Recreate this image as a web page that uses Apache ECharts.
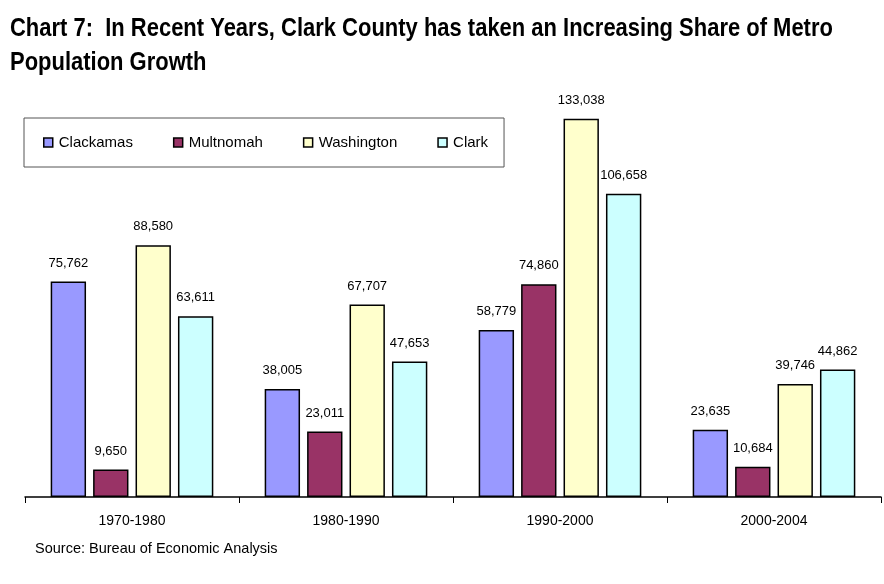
<!DOCTYPE html>
<html>
<head>
<meta charset="utf-8">
<title>Chart 7</title>
<script src="https://cdn.jsdelivr.net/npm/echarts@6/dist/echarts.min.js"></script>
<style>
  html, body { margin: 0; padding: 0; background: #fff; }
  #chart { width: 884px; height: 584px; }
</style>
</head>
<body>
<div id="chart"></div>
<script>
// Population growth by county, per period
const periods = ['1970-1980', '1980-1990', '1990-2000', '2000-2004'];
const clackamas = [75762, 38005, 58779, 23635];
const multnomah = [9650, 23011, 74860, 10684];
const washington = [88580, 67707, 133038, 39746];
const clark = [63611, 47653, 106658, 44862];

const countyNames = ['Clackamas', 'Multnomah', 'Washington', 'Clark'];
const countyColors = ['#9999FF', '#993366', '#FFFFCC', '#CCFFFF'];
const countyValues = [clackamas, multnomah, washington, clark];

const titleLines = [
  'Chart 7:  In Recent Years, Clark County has taken an Increasing Share of Metro',
  'Population Growth'
];
const sourceNote = 'Source: Bureau of Economic Analysis';

const sans = '"Liberation Sans", Arial, sans-serif';

const chart = echarts.init(document.getElementById('chart'), null, { renderer: 'canvas' });

const series = countyNames.map((name, i) => ({
  name: name,
  type: 'bar',
  data: countyValues[i],
  barGap: '20%',
  barCategoryGap: '24%',
  itemStyle: { color: countyColors[i], borderColor: '#000', borderWidth: 1.5 },
  label: {
    show: true,
    position: 'top',
    distance: 12,
    color: '#000',
    fontFamily: sans,
    fontSize: 13,
    formatter: p => p.value.toLocaleString('en-US')
  },
  emphasis: { disabled: true }
}));

// Condensed title lines: bold sans squeezed horizontally
const titleText = (text, y) => ({
  type: 'text',
  x: 10,
  y: y,
  scaleX: 0.845,
  silent: true,
  style: {
    text: text,
    fontFamily: sans,
    fontSize: 26,
    fontWeight: 'bold',
    fill: '#000',
    verticalAlign: 'middle'
  }
});

chart.setOption({
  animation: false,
  backgroundColor: '#fff',
  graphic: [
    titleText(titleLines[0], 29),
    titleText(titleLines[1], 63),
    {
      type: 'text',
      x: 35,
      y: 549,
      silent: true,
      style: {
        text: sourceNote,
        fontFamily: sans,
        fontSize: 14.5,
        fill: '#000',
        verticalAlign: 'middle'
      }
    }
  ],
  legend: {
    left: 24,
    top: 118,
    orient: 'horizontal',
    padding: [17, 16, 17, 19],
    itemGap: 40,
    itemWidth: 9,
    itemHeight: 9,
    borderColor: '#555',
    borderWidth: 1,
    icon: 'rect',
    itemStyle: { borderColor: '#000', borderWidth: 1.5 },
    textStyle: { fontFamily: sans, fontSize: 15, color: '#000', padding: [0, 0, 0, 1] },
    data: countyNames
  },
  grid: { left: 25, right: 3, top: 99, bottom: 87, containLabel: false },
  xAxis: {
    type: 'category',
    data: periods,
    axisLine: { lineStyle: { color: '#000', width: 1.5 } },
    axisTick: { show: true, length: 6, lineStyle: { color: '#000' } },
    axisLabel: { fontFamily: sans, fontSize: 14, color: '#000', margin: 17 }
  },
  yAxis: {
    type: 'value',
    min: 0,
    max: 140000,
    show: false,
    splitLine: { show: false }
  },
  series: series
});
</script>
</body>
</html>
